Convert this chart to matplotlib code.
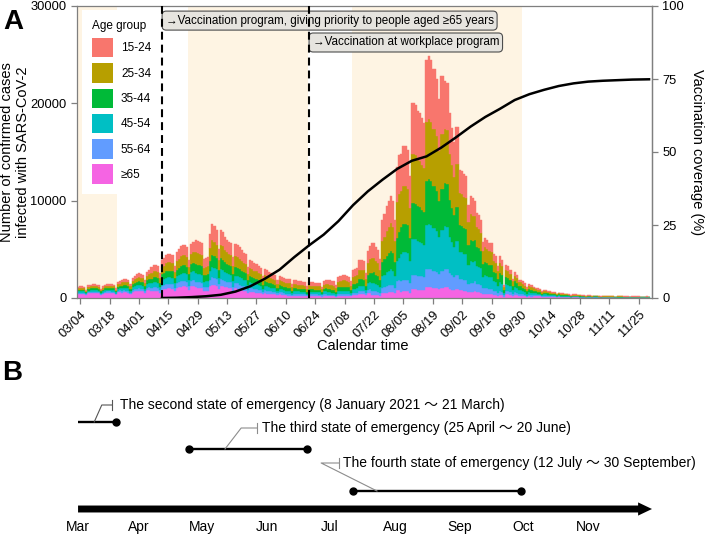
import matplotlib
matplotlib.use("Agg")
import matplotlib.pyplot as plt
from matplotlib import font_manager
from matplotlib.patches import Patch
from matplotlib.transforms import blended_transform_factory
import numpy as np

names = {f.name for f in font_manager.fontManager.ttflist}
FA = ['Liberation Sans', 'DejaVu Sans']
plt.rcParams['font.family'] = FA
if 'Liberation Sans Narrow' in names:
    FB = ['Liberation Sans Narrow', 'Noto Sans CJK JP', 'DejaVu Sans']
    fsB = 12
else:
    FB = ['Liberation Sans', 'Noto Sans CJK JP', 'DejaVu Sans']
    fsB = 10

# ---------------- data (daily, 2021-03-03 .. 2021-11-30) ----------------
groups = ['15-24', '25-34', '35-44', '45-54', '55-64', '≥65']
colors = ['#F8766D', '#B79F00', '#00BA38', '#00BFC4', '#619CFF', '#F564E3']

r15 = [
    150, 160, 160, 150, 110, 170, 180,
    180, 180, 180, 170, 120, 160, 180,
    190, 190, 180, 180, 130, 210, 220,
    300, 320, 310, 300, 220, 340, 370,
    400, 420, 400, 380, 290, 430, 460,
    610, 650, 650, 630, 480, 740, 780,
    840, 860, 860, 840, 630, 890, 950,
    1010, 1030, 1030, 990, 740, 1060, 1100,
    1320, 1300, 1280, 1230, 880, 900, 920,
    1450, 1670, 1630, 1540, 1100, 1540, 1500,
    1390, 1320, 1280, 1250, 920, 1210, 1190,
    1140, 1080, 1010, 990, 700, 860, 840,
    790, 770, 730, 680, 510, 660, 640,
    590, 570, 550, 530, 400, 510, 480,
    460, 440, 430, 420, 310, 410, 400,
    390, 370, 360, 350, 260, 360, 350,
    350, 340, 340, 330, 250, 390, 400,
    460, 450, 440, 430, 340, 550, 580,
    600, 600, 580, 550, 430, 730, 750,
    780, 980, 980, 950, 650, 1200, 1330,
    1510, 1540, 1400, 1320, 1080, 2160, 2320,
    2570, 2700, 2840, 2700, 2160, 3650, 3970,
    3850, 4060, 4060, 3950, 3250, 5200, 5200,
    5150, 4990, 4940, 4810, 4680, 6370, 6470,
    6370, 6110, 6110, 5850, 5300, 5930, 5930,
    4910, 4860, 4180, 3850, 3520, 3870, 3870,
    2380, 2340, 2290, 2250, 1710, 1890, 1850,
    1600, 1390, 1360, 1280, 930, 990, 960,
    910, 900, 720, 690, 530, 690, 620,
    200, 510, 500, 440, 300, 410, 360,
    290, 290, 260, 230, 170, 210, 200,
    170, 160, 150, 140, 110, 130, 120,
    110, 110, 100, 90, 70, 80, 80,
    70, 70, 60, 60, 45, 55, 55,
    50, 50, 45, 45, 35, 40, 40,
    35, 40, 35, 35, 25, 35, 30,
    30, 30, 30, 30, 25, 30, 30,
    25, 25, 25, 25, 20, 25, 25,
    25, 25, 20, 20, 15, 25, 20,
]
r25 = [
    170, 180, 180, 170, 130, 200, 200,
    210, 210, 200, 200, 140, 180, 200,
    220, 220, 210, 200, 150, 240, 260,
    320, 340, 330, 320, 240, 360, 390,
    430, 440, 430, 410, 310, 460, 490,
    610, 650, 650, 630, 480, 740, 780,
    840, 860, 860, 840, 630, 890, 950,
    1010, 1030, 1030, 990, 740, 1060, 1100,
    1200, 1180, 1160, 1120, 800, 820, 840,
    1320, 1520, 1480, 1400, 1000, 1400, 1360,
    1260, 1200, 1160, 1140, 840, 1100, 1080,
    1090, 1030, 970, 950, 670, 820, 800,
    760, 740, 690, 650, 480, 630, 610,
    570, 550, 530, 500, 380, 480, 460,
    480, 460, 450, 440, 320, 430, 410,
    400, 390, 380, 370, 280, 380, 370,
    370, 360, 360, 350, 260, 400, 410,
    480, 470, 460, 440, 350, 570, 600,
    620, 620, 600, 570, 440, 750, 780,
    810, 1010, 1010, 990, 680, 1250, 1380,
    1510, 1540, 1400, 1320, 1080, 2160, 2320,
    2570, 2700, 2840, 2700, 2160, 3650, 3970,
    3700, 3900, 3900, 3800, 3130, 5000, 5000,
    4950, 4800, 4750, 4630, 4500, 6130, 6230,
    6130, 5880, 5880, 5630, 5100, 5700, 5700,
    5580, 5530, 4750, 4380, 4000, 4400, 4400,
    3300, 3250, 3180, 3130, 2380, 2630, 2580,
    2400, 2090, 2040, 1920, 1390, 1490, 1440,
    1370, 1340, 1080, 1030, 790, 1030, 940,
    290, 750, 730, 640, 440, 590, 530,
    420, 420, 370, 330, 240, 310, 290,
    230, 210, 200, 190, 140, 170, 160,
    150, 140, 130, 120, 90, 110, 100,
    95, 90, 85, 80, 60, 75, 70,
    70, 65, 60, 60, 45, 55, 50,
    45, 50, 50, 45, 35, 45, 45,
    40, 40, 40, 40, 30, 40, 35,
    35, 35, 35, 35, 25, 35, 30,
    30, 30, 30, 30, 25, 30, 30,
]
r35 = [
    150, 160, 160, 150, 110, 170, 180,
    180, 180, 180, 170, 120, 160, 180,
    190, 190, 180, 180, 130, 210, 220,
    270, 280, 270, 270, 200, 290, 320,
    350, 360, 350, 340, 250, 380, 410,
    480, 510, 510, 500, 380, 590, 620,
    660, 680, 680, 660, 500, 710, 750,
    800, 810, 810, 780, 590, 840, 870,
    960, 940, 930, 900, 640, 660, 670,
    1060, 1220, 1180, 1120, 800, 1120, 1090,
    1010, 960, 930, 910, 670, 880, 860,
    830, 780, 740, 720, 510, 620, 610,
    580, 560, 530, 500, 370, 480, 460,
    430, 420, 400, 380, 290, 370, 350,
    360, 340, 330, 320, 240, 310, 310,
    300, 290, 280, 270, 200, 280, 270,
    270, 260, 260, 260, 200, 300, 310,
    310, 310, 300, 290, 230, 370, 390,
    410, 410, 390, 370, 290, 490, 510,
    530, 660, 660, 650, 440, 820, 900,
    1010, 1030, 940, 880, 720, 1440, 1550,
    1710, 1800, 1890, 1800, 1440, 2430, 2650,
    2740, 2890, 2890, 2810, 2310, 3700, 3700,
    3660, 3550, 3520, 3420, 3330, 4530, 4610,
    4530, 4350, 4350, 4160, 3770, 4220, 4220,
    4460, 4420, 3800, 3500, 3200, 3520, 3520,
    2770, 2730, 2670, 2630, 2000, 2210, 2160,
    2200, 1910, 1870, 1760, 1280, 1360, 1320,
    1250, 1230, 990, 950, 730, 950, 860,
    270, 710, 690, 610, 420, 570, 500,
    400, 400, 360, 320, 230, 290, 270,
    220, 200, 190, 180, 130, 160, 150,
    140, 130, 120, 110, 90, 100, 100,
    90, 85, 80, 75, 55, 70, 70,
    65, 60, 55, 55, 40, 50, 50,
    45, 45, 45, 45, 30, 40, 40,
    40, 40, 40, 35, 30, 35, 35,
    35, 35, 30, 30, 25, 30, 30,
    30, 30, 30, 30, 20, 30, 30,
]
r45 = [
    150, 160, 160, 150, 110, 170, 180,
    180, 180, 180, 170, 120, 160, 180,
    190, 190, 180, 180, 130, 210, 220,
    270, 280, 270, 270, 200, 290, 320,
    350, 360, 350, 340, 250, 380, 410,
    480, 510, 510, 500, 380, 590, 620,
    660, 680, 680, 660, 500, 710, 750,
    800, 810, 810, 780, 590, 840, 870,
    840, 830, 810, 780, 560, 570, 590,
    920, 1060, 1040, 980, 700, 980, 950,
    880, 840, 810, 800, 590, 770, 760,
    780, 740, 690, 680, 480, 590, 570,
    540, 530, 500, 470, 350, 450, 440,
    410, 390, 380, 360, 270, 350, 330,
    320, 300, 290, 290, 210, 280, 270,
    260, 260, 250, 240, 180, 250, 240,
    240, 230, 230, 230, 170, 260, 270,
    260, 250, 250, 240, 190, 310, 320,
    340, 340, 320, 310, 240, 410, 420,
    430, 550, 550, 530, 360, 670, 740,
    840, 860, 780, 740, 600, 1200, 1290,
    1430, 1500, 1580, 1500, 1200, 2030, 2210,
    2740, 2890, 2890, 2810, 2310, 3700, 3700,
    3660, 3550, 3520, 3420, 3330, 4530, 4610,
    4530, 4350, 4350, 4160, 3770, 4220, 4220,
    4350, 4310, 3710, 3410, 3120, 3430, 3430,
    2770, 2730, 2670, 2630, 2000, 2210, 2160,
    2100, 1830, 1790, 1680, 1220, 1300, 1260,
    1200, 1180, 950, 900, 690, 900, 820,
    260, 680, 660, 580, 400, 540, 480,
    380, 380, 340, 300, 220, 280, 260,
    210, 190, 180, 170, 130, 150, 140,
    140, 130, 120, 110, 80, 100, 90,
    90, 80, 75, 70, 55, 70, 65,
    60, 55, 55, 50, 40, 50, 45,
    40, 45, 45, 40, 30, 40, 40,
    40, 35, 35, 35, 25, 35, 35,
    35, 30, 30, 30, 20, 30, 30,
    30, 30, 30, 25, 20, 30, 30,
]
r55 = [
    120, 120, 120, 120, 90, 130, 140,
    140, 140, 140, 130, 100, 120, 140,
    150, 150, 140, 140, 100, 160, 170,
    190, 200, 200, 190, 140, 210, 230,
    250, 260, 250, 240, 180, 270, 290,
    320, 340, 340, 330, 250, 390, 410,
    440, 450, 450, 440, 330, 470, 500,
    530, 540, 540, 520, 390, 560, 580,
    600, 590, 580, 560, 400, 410, 420,
    660, 760, 740, 700, 500, 700, 680,
    630, 600, 580, 570, 420, 550, 540,
    520, 490, 460, 450, 320, 390, 380,
    360, 350, 330, 310, 230, 300, 290,
    270, 260, 250, 240, 180, 230, 220,
    210, 200, 200, 190, 140, 190, 180,
    180, 170, 170, 160, 120, 170, 160,
    160, 160, 160, 150, 120, 180, 180,
    150, 140, 140, 140, 110, 180, 180,
    190, 190, 180, 180, 140, 230, 240,
    250, 310, 310, 300, 210, 380, 420,
    390, 400, 360, 340, 280, 560, 600,
    670, 700, 740, 700, 560, 950, 1030,
    1110, 1170, 1170, 1140, 940, 1500, 1500,
    1490, 1440, 1430, 1390, 1350, 1840, 1870,
    1840, 1760, 1760, 1690, 1530, 1710, 1710,
    1900, 1880, 1620, 1490, 1360, 1500, 1500,
    1190, 1170, 1140, 1130, 860, 950, 930,
    1000, 870, 850, 800, 580, 620, 600,
    570, 560, 450, 430, 330, 430, 390,
    140, 370, 360, 320, 220, 300, 260,
    210, 210, 190, 160, 120, 150, 140,
    140, 130, 120, 110, 80, 100, 100,
    90, 80, 80, 70, 50, 70, 60,
    60, 55, 50, 50, 35, 45, 45,
    40, 40, 35, 35, 25, 30, 30,
    30, 30, 30, 30, 20, 25, 25,
    25, 25, 25, 25, 20, 20, 20,
    20, 20, 20, 20, 15, 20, 20,
    20, 20, 20, 20, 15, 20, 20,
]
r65 = [
    410, 430, 430, 410, 310, 470, 490,
    500, 500, 490, 470, 340, 430, 490,
    520, 520, 500, 490, 360, 580, 610,
    550, 580, 570, 550, 410, 610, 670,
    720, 750, 720, 700, 520, 780, 840,
    700, 750, 750, 730, 550, 860, 900,
    970, 990, 990, 970, 730, 1030, 1100,
    1170, 1190, 1190, 1140, 860, 1230, 1280,
    1080, 1060, 1040, 1010, 720, 740, 760,
    1190, 1370, 1330, 1260, 900, 1260, 1220,
    1130, 1080, 1040, 1030, 760, 990, 970,
    830, 780, 740, 720, 510, 620, 610,
    580, 560, 530, 500, 370, 480, 460,
    430, 420, 400, 380, 290, 370, 350,
    270, 260, 250, 250, 180, 240, 230,
    230, 220, 210, 210, 160, 210, 210,
    210, 200, 200, 200, 150, 230, 230,
    190, 180, 160, 160, 130, 220, 230,
    240, 240, 230, 220, 160, 290, 300,
    300, 390, 390, 380, 260, 480, 530,
    340, 330, 320, 300, 240, 480, 520,
    550, 600, 610, 600, 480, 790, 870,
    660, 690, 690, 690, 560, 900, 900,
    890, 870, 840, 830, 810, 1100, 1110,
    1100, 1050, 1050, 1010, 930, 1020, 1020,
    1100, 1100, 940, 870, 800, 880, 880,
    790, 780, 760, 750, 570, 630, 620,
    700, 610, 590, 560, 400, 440, 420,
    400, 390, 310, 300, 230, 300, 270,
    140, 380, 360, 310, 220, 290, 270,
    200, 200, 180, 160, 120, 160, 140,
    180, 160, 160, 160, 110, 140, 130,
    120, 110, 100, 100, 70, 90, 90,
    75, 70, 70, 65, 50, 65, 55,
    55, 50, 50, 45, 35, 45, 45,
    35, 40, 35, 35, 30, 35, 35,
    35, 35, 30, 30, 20, 30, 30,
    30, 30, 30, 25, 20, 30, 25,
    25, 20, 20, 25, 20, 20, 20,
]

# vaccination coverage (%), day index from 03/03
vax_days = [40, 47, 54, 61, 68, 75, 82, 89, 96, 103, 110, 117, 124, 131, 138, 145,
            152, 159, 166, 173, 180, 187, 194, 201, 208, 215, 222, 229, 236, 243,
            250, 257, 264, 272]
vax_pct = [0, 0.1, 0.3, 0.6, 1.1, 2.2, 4.0, 6.6, 9.7, 14.0, 18.0, 21.7, 26.3, 31.8,
           36.5, 40.5, 44.2, 47.0, 48.5, 51.5, 55.0, 58.7, 62.0, 64.8, 67.8, 69.8,
           71.3, 72.6, 73.5, 74.1, 74.4, 74.6, 74.8, 74.9]

tick_days = [1, 15, 29, 43, 57, 71, 85, 99, 113, 127, 141, 155, 169, 183, 197, 211,
             225, 239, 253, 267]
tick_labels = ['03/04', '03/18', '04/01', '04/15', '04/29', '05/13', '05/27', '06/10',
               '06/24', '07/08', '07/22', '08/05', '08/19', '09/02', '09/16', '09/30',
               '10/14', '10/28', '11/11', '11/25']

# states of emergency (day index): start, end
em_start = [-1, 53, 131]
em_end = [18, 109, 211]
em_labels = ['The second state of emergency (8 January 2021 ～ 21 March)',
             'The third state of emergency (25 April ～ 20 June)',
             'The fourth state of emergency (12 July ～ 30 September)']
vax_events = [40, 110]
vax_event_labels = ['→Vaccination program, giving priority to people aged ≥65 years',
                    '→Vaccination at workplace program']
month_days = [0, 29, 59, 90, 120, 151, 182, 212, 243]
month_labels = ['Mar', 'Apr', 'May', 'Jun', 'Jul', 'Aug', 'Sep', 'Oct', 'Nov']

# ---------------- figure ----------------
W, H = 712, 536
fig = plt.figure(figsize=(W / 100, H / 100), dpi=100)
fig.patch.set_facecolor('white')

ax = fig.add_axes([77 / W, 1 - 298 / H, 575 / W, 292 / H])
xlim = (-0.5, 273.4)
ax.set_xlim(*xlim)
ax.set_ylim(0, 30000)

shade = '#FEF4E3'
for s, e in zip(em_start, em_end):
    ax.axvspan(s - 0.5, e + 0.5, color=shade, lw=0, zorder=0)

n = len(r15)
days = np.arange(n)
stack = [r65, r55, r45, r35, r25, r15]
stack_colors = colors[::-1]
bottom = np.zeros(n)
for vals, col in zip(stack, stack_colors):
    vals = np.asarray(vals, dtype=float)
    ax.bar(days, vals, width=1.0, bottom=bottom, color=col, edgecolor=col,
           linewidth=0.3, zorder=2)
    bottom += vals

for d in vax_events:
    ax.axvline(d, color='black', lw=1.5, ls=(0, (3.8, 2.4)), zorder=6)

tr = blended_transform_factory(ax.transData, ax.transAxes)
box_y = [0.950, 0.875]
for d, lab, yy in zip(vax_events, vax_event_labels, box_y):
    ax.text(d + 1.7, yy, lab, transform=tr, ha='left', va='center', fontsize=8.4,
            zorder=4,
            bbox=dict(boxstyle='round,pad=0.3,rounding_size=0.35', fc='#E6E4DF',
                      ec='#4D4D4D', lw=0.8))

ax.set_xticks(tick_days)
ax.set_xticklabels(tick_labels, rotation=45, ha='right', va='top',
                   rotation_mode='anchor')
ax.set_yticks([0, 10000, 20000, 30000])
ax.set_yticklabels(['0', '10000', '20000', '30000'])
ax.tick_params(axis='both', colors='#7F7F7F', labelcolor='black', length=4,
               width=0.9, labelsize=9.3)
for sp in ax.spines.values():
    sp.set_color('#7F7F7F')
    sp.set_linewidth(0.9)

handles = [Patch(facecolor=c, edgecolor='none') for c in colors]
leg = ax.legend(handles, groups, title='Age group', loc='upper left',
                bbox_to_anchor=(5 / 575, 1 - 4 / 292), borderaxespad=0,
                frameon=True, fancybox=False, edgecolor='none', facecolor='white',
                framealpha=1, fontsize=8.5, title_fontsize=8.5, handlelength=1.75,
                handleheight=2.15, labelspacing=0.5, handletextpad=0.7,
                borderpad=0.85, alignment='left')
leg.set_zorder(5)

ax2 = ax.twinx()
ax2.set_ylim(0, 100)
ax2.set_xlim(*xlim)
ax2.plot(vax_days, vax_pct, color='black', lw=1.8, zorder=3)
ax2.set_yticks([0, 25, 50, 75, 100])
ax2.tick_params(axis='y', colors='#7F7F7F', labelcolor='black', length=4,
                width=0.9, labelsize=9.3)
for k, sp in ax2.spines.items():
    if k == 'right':
        sp.set_color('#7F7F7F')
        sp.set_linewidth(0.9)
    else:
        sp.set_visible(False)

fig.text(15 / W, 1 - 152 / H, 'Number of confirmed cases\ninfected with SARS-CoV-2',
         rotation=90, ha='center', va='center', fontsize=10.5, linespacing=1.1)
fig.text(697 / W, 1 - 152 / H, 'Vaccination coverage (%)', rotation=270,
         ha='center', va='center', fontsize=10.5)
fig.text(363 / W, 1 - 346 / H, 'Calendar time', ha='center', va='center',
         fontsize=10.5)
fig.text(13 / W, 1 - 22 / H, 'A', ha='center', va='center', fontsize=20,
         fontweight='bold')

# ---------------- panel B ----------------
axB = fig.add_axes([77 / W, 0, 575 / W, 176 / H])
axB.set_xlim(*xlim)
axB.set_ylim(536, 360)
axB.axis('off')

axB.annotate('', xy=(xlim[1], 509), xytext=(xlim[0] + 0.5, 509),
             annotation_clip=False,
             arrowprops=dict(arrowstyle='simple,head_length=1.0,head_width=0.95,tail_width=0.5',
                             mutation_scale=10, fc='black', ec='black', lw=0,
                             shrinkA=0, shrinkB=0))

seg_y = [422, 449, 491]
txt_y = [405, 428, 463]
txt_x = [20.0, 87.7, 126.2]
lead = [[(7.7, 11.3, 16.2)], [(70.0, 77.7, 85.3)], [(142.4, 115.8, 124.3)]]
lead_col = ['#555555', '#8C8C8C', '#8C8C8C']
for i in range(3):
    s = max(em_start[i], xlim[0] + 0.5)
    e = em_end[i]
    y = seg_y[i]
    axB.plot([s, e], [y, y], color='black', lw=1.7, solid_capstyle='butt',
             clip_on=False)
    axB.plot([e], [y], 'o', ms=5, color='black', clip_on=False)
    if em_start[i] >= 0:
        axB.plot([s], [y], 'o', ms=5, color='black', clip_on=False)
    a, b, c = lead[i][0]
    axB.plot([a, b, c], [y, txt_y[i], txt_y[i]], color=lead_col[i], lw=0.8)
    axB.plot([c, c], [txt_y[i] - 5, txt_y[i] + 5], color=lead_col[i], lw=0.8)
    axB.text(txt_x[i], txt_y[i], em_labels[i], ha='left', va='center',
             fontsize=fsB, family=FB)

for d, m in zip(month_days, month_labels):
    axB.text(d, 527, m, ha='center', va='center', fontsize=fsB, family=FB)

fig.text(12 / W, 1 - 373 / H, 'B', ha='center', va='center', fontsize=20,
         fontweight='bold', family=FB)

fig.savefig('out.png', dpi=100)
